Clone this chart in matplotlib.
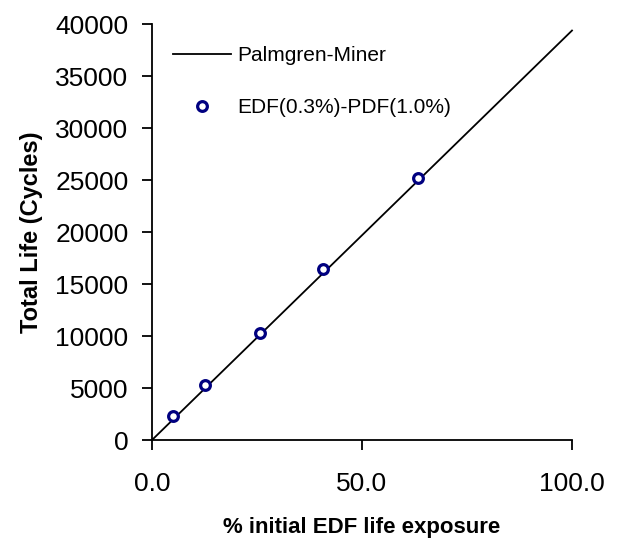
import matplotlib
matplotlib.use("Agg")
import matplotlib.pyplot as plt
import numpy as np

plt.rcParams['font.family'] = ['Liberation Sans', 'DejaVu Sans']

# Data
line_x = [0.0, 100.0]
line_y = [0, 39400]
exposure = [4.95, 12.6, 25.6, 40.7, 63.3]
total_life = [2300, 5320, 10330, 16450, 25180]
xticks = [0.0, 50.0, 100.0]
xtick_labels = ["0.0", "50.0", "100.0"]
yticks = [0, 5000, 10000, 15000, 20000, 25000, 30000, 35000, 40000]

fig = plt.figure(figsize=(6.18, 5.39), dpi=100)
ax = fig.add_axes([152/618, 1-440/539, 420/618, (440-24.3)/539])

ax.plot(line_x, line_y, color='black', lw=1.3, label='Palmgren-Miner', clip_on=False)
ax.plot(exposure, total_life, linestyle='none', marker='o', ms=7, mfc='white',
        mec='#000080', mew=2.3, label='EDF(0.3%)-PDF(1.0%)', clip_on=False)

ax.set_xlim(0, 100)
ax.set_ylim(0, 40000)
ax.set_xticks(xticks)
ax.set_xticklabels(xtick_labels)
ax.set_yticks(yticks)
ax.set_yticklabels([str(v) for v in yticks])
ax.tick_params(axis='both', direction='out', length=7, width=1.3, labelsize=19)
ax.tick_params(axis='x', pad=16)
ax.tick_params(axis='y', pad=10)
for s in ['top', 'right']:
    ax.spines[s].set_visible(False)
for s in ['left', 'bottom']:
    ax.spines[s].set_linewidth(1.3)

ax.set_xlabel('% initial EDF life exposure', fontsize=16, fontweight='bold', labelpad=15)
ax.set_ylabel('Total Life (Cycles)', fontsize=17, fontweight='bold', labelpad=9)

leg = ax.legend(loc='upper left', bbox_to_anchor=(0.03, 0.968), frameon=False,
                fontsize=15, handlelength=2.8, handletextpad=0.3, labelspacing=1.6,
                borderaxespad=0)

fig.savefig('out.png', dpi=100)
